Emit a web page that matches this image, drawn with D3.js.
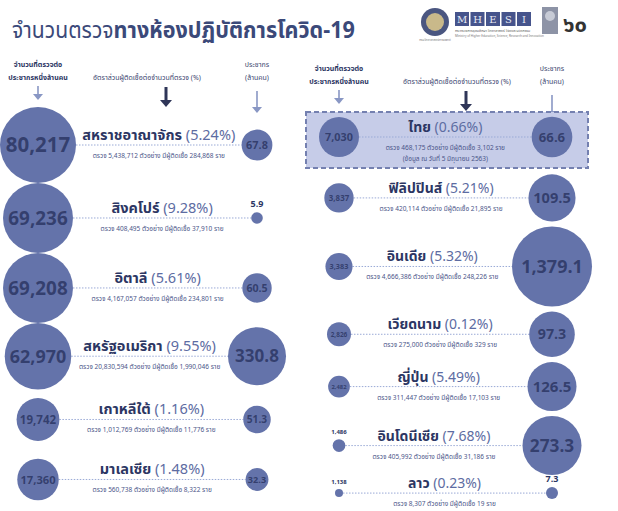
<!DOCTYPE html>
<html>
<head>
<meta charset="utf-8">
<script src="https://cdn.jsdelivr.net/npm/d3@7"></script>
<style>
  body { margin: 0; background: #fff; }
  svg { display: block; }
</style>
</head>
<body>
<div id="chart"></div>
<script>
const width = 618, height = 511;

// left panel: countries with many tests
const leftCountries = ["สหราชอาณาจักร", "สิงคโปร์", "อิตาลี", "สหรัฐอเมริกา", "เกาหลีใต้", "มาเลเซีย"];
const leftTestsPerMillion = [80217, 69236, 69208, 62970, 19742, 17360];
const leftPositiveRate = [5.24, 9.28, 5.61, 9.55, 1.16, 1.48];
const leftPopulation = [67.8, 5.9, 60.5, 330.8, 51.3, 32.3];
const leftTests = [5438712, 408495, 4167057, 20830594, 1012769, 560738];
const leftCases = [284868, 37910, 234801, 1990046, 11776, 8322];

// right panel: Thailand and neighbours
const rightCountries = ["ไทย", "ฟิลิปปินส์", "อินเดีย", "เวียดนาม", "ญี่ปุ่น", "อินโดนีเซีย", "ลาว"];
const rightTestsPerMillion = [7030, 3837, 3383, 2826, 2482, 1486, 1138];
const rightPositiveRate = [0.66, 5.21, 5.32, 0.12, 5.49, 7.68, 0.23];
const rightPopulation = [66.6, 109.5, 1379.1, 97.3, 126.5, 273.3, 7.3];
const rightTests = [468175, 420114, 4666386, 275000, 311447, 405992, 8307];
const rightCases = [3102, 21895, 248226, 329, 17103, 31186, 19];

const titleMain = "จำนวนตรวจ";
const titleRest = "ทางห้องปฏิบัติการโควิด-19";
const headerTests = ["จำนวนที่ตรวจต่อ", "ประชากรหนึ่งล้านคน"];
const headerRate = "อัตราส่วนผู้ติดเชื้อต่อจำนวนที่ตรวจ (%)";
const headerPop = ["ประชากร", "(ล้านคน)"];
const thaiNote = "(ข้อมูล ณ วันที่ 5 มิถุนายน 2563)";

const fontFamily = "'Noto Sans Thai', 'Noto Sans', 'Open Sans', sans-serif";
const circleFill = "#6473aa";
const navy = "#2c3663";
const softBlue = "#5d6ca2";
const lineBlue = "#9aaad6";

const fmtInt = d3.format(",");
const fmtPop = d3.format(",.1f");
const fmtRate = d3.format(".2f");

function makeRows(names, tpm, rate, pop, tests, cases) {
    return names.map((name, i) => ({
        name, tpm: tpm[i], rate: rate[i], pop: pop[i], tests: tests[i], cases: cases[i]
    }));
}
const leftRows = makeRows(leftCountries, leftTestsPerMillion, leftPositiveRate, leftPopulation, leftTests, leftCases);
const rightRows = makeRows(rightCountries, rightTestsPerMillion, rightPositiveRate, rightPopulation, rightTests, rightCases);

// radius scales (the original is hand drawn, each panel has its own sizing)
const leftTestR = d3.scaleLinear().domain([0, d3.max(leftTestsPerMillion)]).range([16, 38]);
const rightTestR = d3.scaleLog().domain(d3.extent(rightTestsPerMillion)).range([4, 20]);
const leftPopR = d3.scalePow().exponent(0.4).domain([0, d3.max(leftPopulation)]).range([0, 29]);
const rightPopR = d3.scaleLog().domain(d3.extent(rightPopulation)).range([6, 40]);

leftRows.forEach(d => { d.rT = leftTestR(d.tpm); d.rP = leftPopR(d.pop); });
rightRows.forEach(d => { d.rT = rightTestR(d.tpm); d.rP = rightPopR(d.pop); });

// stack rows downwards, each row needs room for its biggest circle (or its text block)
function stackRows(rows, startY, minReach, gap, firstExtra) {
    let y = startY;
    rows.forEach((d, i) => {
        d.reach = Math.max(d.rT, d.rP, minReach) + (i === 0 ? firstExtra : 0);
        if (i > 0) y += rows[i - 1].reach + d.reach + gap;
        d.y = y;
    });
}
stackRows(leftRows, 145, 30, 0, 0);
stackRows(rightRows, 137, 13, 5, 12);

const svg = d3.select("#chart").append("svg")
    .attr("width", width)
    .attr("height", height)
    .style("font-family", fontFamily);

svg.append("rect").attr("width", width).attr("height", height).attr("fill", "#fff");

// title (the original face is narrower, so squeeze it a little)
const title = svg.append("text")
    .attr("transform", "translate(12, 38) scale(0.92, 1)")
    .attr("fill", "#3b4979");
title.append("tspan").style("font-size", "23px").style("font-weight", "400").text(titleMain);
title.append("tspan").style("font-size", "23.5px").style("font-weight", "700").text(titleRest);

// logos (rough)
const logos = svg.append("g").attr("class", "logos");
logos.append("circle").attr("cx", 435).attr("cy", 22).attr("r", 14).attr("fill", "#4a5680");
logos.append("circle").attr("cx", 435).attr("cy", 22).attr("r", 9).attr("fill", "#c9b98a");
logos.append("text").attr("x", 435).attr("y", 41).attr("text-anchor", "middle")
    .attr("fill", "#777").style("font-size", "3px").text("กรมวิทยาศาสตร์การแพทย์");
const mhesi = ["M", "H", "E", "S", "I"];
logos.selectAll("g.box").data(mhesi).join("g")
    .attr("class", "box")
    .attr("transform", (d, i) => `translate(${455 + i * 15.5}, 12)`)
    .call(g => g.append("rect").attr("width", 14).attr("height", 14).attr("fill", "#46548c"))
    .call(g => g.append("text").attr("x", 7).attr("y", 11).attr("text-anchor", "middle")
        .attr("fill", "#e8ebf5").style("font-family", "'DejaVu Serif', serif").style("font-size", "10px").text(d => d));
logos.append("text").attr("x", 455).attr("y", 32).attr("fill", "#555").style("font-size", "3.5px")
    .text("กระทรวงการอุดมศึกษา วิทยาศาสตร์ วิจัยและนวัตกรรม");
logos.append("text").attr("x", 455).attr("y", 37).attr("fill", "#777").style("font-size", "3px")
    .text("Ministry of Higher Education, Science, Research and Innovation");
logos.append("rect").attr("x", 542).attr("y", 7).attr("width", 16).attr("height", 27).attr("fill", "#8d93a6");
logos.append("circle").attr("cx", 550).attr("cy", 16).attr("r", 5).attr("fill", "#c7cbd6");
logos.append("text").attr("x", 563).attr("y", 32).attr("fill", "#333").style("font-size", "22px").style("font-weight", "700").text("๖๐");

// headers
function drawArrow(x, y1, y2, dark) {
    const g = svg.append("g");
    const color = dark ? "#2f3658" : "#8997c4";
    const head = dark ? 6 : 5;
    g.append("line").attr("x1", x).attr("x2", x).attr("y1", y1).attr("y2", y2 - head)
        .attr("stroke", color).attr("stroke-width", dark ? 3 : 1.6);
    g.append("path")
        .attr("d", `M${x - head},${y2 - head - 1}L${x + head},${y2 - head - 1}L${x},${y2}Z`)
        .attr("fill", color);
}

function drawHeaders(cfg) {
    const h = svg.append("g").attr("fill", navy).style("font-size", "7px").style("font-weight", "700")
        .attr("text-anchor", "middle");
    h.selectAll("text.tests").data(headerTests).join("text")
        .attr("x", cfg.testX).attr("y", (d, i) => cfg.headY + i * 13).text(d => d);
    h.append("text").attr("x", cfg.rateX).attr("y", cfg.headY + 13).style("font-weight", "400")
        .attr("fill", "#3c4670").text(headerRate);
    h.selectAll("text.pop").data(headerPop).join("text")
        .attr("x", cfg.popX).attr("y", (d, i) => cfg.headY + i * 13).style("font-weight", "400")
        .attr("fill", "#3c4670").text(d => d);
    drawArrow(cfg.testX, cfg.headY + 19, cfg.headY + 33, false);
    drawArrow(cfg.arrowX, cfg.headY + 20, cfg.headY + 40, true);
    drawArrow(cfg.popX, cfg.headY + 24, cfg.headY + 46, false);
}

function popFont(r) {
    return Math.max(9, Math.min(18, r * 0.45 + 4));
}

function drawPanel(rows, cfg) {
    const g = svg.append("g");

    if (cfg.highlight) {
        const d = rows[0];
        g.append("rect")
            .attr("x", 306).attr("y", d.y - 25)
            .attr("width", 282).attr("height", 56)
            .attr("fill", "#c6cce8")
            .attr("stroke", "#7480b0")
            .attr("stroke-width", 2)
            .attr("stroke-dasharray", "5,3");
    }

    // text sits over the middle of the dotted connector
    rows.forEach(d => { d.midX = (cfg.testX + d.rT + cfg.popX - d.rP) / 2; });

    const row = g.selectAll("g.row").data(rows).join("g")
        .attr("class", "row")
        .attr("transform", d => `translate(0, ${d.y})`);

    row.append("line")
        .attr("x1", d => cfg.testX + d.rT)
        .attr("x2", d => cfg.popX - d.rP)
        .attr("stroke", lineBlue)
        .attr("stroke-width", 1)
        .attr("stroke-dasharray", "1.5,1.5");

    row.append("circle").attr("cx", cfg.testX).attr("r", d => d.rT).attr("fill", circleFill);
    row.append("circle").attr("cx", cfg.popX).attr("r", d => d.rP).attr("fill", circleFill);

    // numbers inside (or above small dots)
    row.append("text")
        .attr("x", cfg.testX)
        .attr("y", d => d.rT >= 8 ? d.rT * 0.54 * 0.36 : -d.rT - 5)
        .attr("text-anchor", "middle")
        .attr("fill", navy)
        .style("font-weight", "700")
        .style("font-size", d => d.rT >= 8 ? `${d.rT * 0.54}px` : "6px")
        .style("fill-opacity", d => d.rT >= 8 ? 0.85 : 1)
        .text(d => fmtInt(d.tpm));

    row.append("text")
        .attr("x", cfg.popX)
        .attr("y", d => d.rP >= 8 ? popFont(d.rP) * 0.36 : -d.rP - 5)
        .attr("text-anchor", "middle")
        .attr("fill", navy)
        .style("font-weight", "700")
        .style("font-size", d => d.rP >= 8 ? `${popFont(d.rP)}px` : "9px")
        .style("fill-opacity", d => d.rP >= 8 ? 0.85 : 1)
        .text(d => fmtPop(d.pop));

    const name = row.append("text")
        .attr("x", d => d.midX)
        .attr("y", -5)
        .attr("text-anchor", "middle")
        .style("font-size", `${cfg.titleSize}px`);
    name.append("tspan").attr("fill", navy).style("font-weight", "700").text(d => d.name);
    name.append("tspan").attr("fill", softBlue).style("font-weight", "400").text(d => ` (${fmtRate(d.rate)}%)`);

    row.append("text")
        .attr("x", d => d.midX)
        .attr("y", 13)
        .attr("text-anchor", "middle")
        .attr("fill", "#4a5588")
        .style("font-size", "6.5px")
        .text(d => `ตรวจ ${fmtInt(d.tests)} ตัวอย่าง มีผู้ติดเชื้อ ${fmtInt(d.cases)} ราย`);

    if (cfg.highlight) {
        g.append("text")
            .attr("x", rows[0].midX)
            .attr("y", rows[0].y + 24)
            .attr("text-anchor", "middle")
            .attr("fill", "#4a5588")
            .style("font-size", "6.5px")
            .text(thaiNote);
    }
}

const leftCfg = { testX: 38, popX: 257, rateX: 147, arrowX: 166, headY: 67, titleSize: 14.5 };
const rightCfg = { testX: 339, popX: 552, rateX: 457, arrowX: 466, headY: 71, titleSize: 14, highlight: true };

drawHeaders(leftCfg);
drawHeaders(rightCfg);
drawPanel(leftRows, leftCfg);
drawPanel(rightRows, rightCfg);
</script>
</body>
</html>
